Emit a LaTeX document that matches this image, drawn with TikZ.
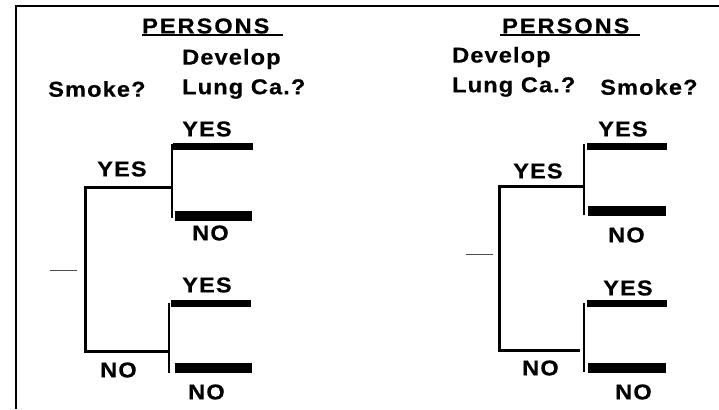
\documentclass[tikz,border=0pt]{standalone}
\usepackage{fontspec}
\setmainfont{Liberation Sans}
\newfontfamily\labfont{Liberation Sans}[UprightFont={* Bold}, FakeStretch=1.1, FakeBold=0.4, LetterSpace=5]
\newfontfamily\labfontw{Liberation Sans}[UprightFont={* Bold}, FakeStretch=1.1, FakeBold=0.4, LetterSpace=9]
\tikzset{
  lab/.style={inner sep=0pt, font=\labfont\fontsize{21.5}{24}\selectfont},
  labw/.style={inner sep=0pt, font=\labfontw\fontsize{21.5}{24}\selectfont},
  frameline/.style={line width=2.5pt},
  branch/.style={line width=3pt},
  bar/.style={line width=7pt},
  barno/.style={line width=10pt},
  tick/.style={line width=1pt, black!70},
}
\begin{document}
\begin{tikzpicture}[x=1pt,y=-1pt]
\useasboundingbox (0,0) rectangle (719,409);
% frame
\coordinate (fTL) at (16,6);
\coordinate (fTR) at (719,6);
\coordinate (fBL) at (16,409);
\draw[frameline] (fTR) -- (fTL) -- (fBL);

% ---------- left tree ----------
\node[labw, anchor=west] (lpers) at (142,26) {PERSONS};
\coordinate (lulA) at (142,35);
\coordinate (lulB) at (283,35);
\draw[line width=1.2pt] (lulA) -- (lulB);
\node[lab, anchor=west] (ldev) at (182,59) {Develop};
\node[lab, anchor=west] (lsmk) at (48,89) {Smoke?};
\node[lab, anchor=west] (llung) at (182,89) {Lung Ca.?};
\node[lab, anchor=west] (lyes1) at (182,129) {YES};
\node[lab, anchor=west] (lyes0) at (97,169) {YES};
\node[lab, anchor=west] (lno1) at (192,233) {NO};
\node[lab, anchor=west] (lyes2) at (182,285) {YES};
\node[lab, anchor=west] (lno0) at (100,370) {NO};
\node[lab, anchor=west] (lno2) at (188,392) {NO};

\coordinate (lt1) at (50,270);
\coordinate (lt2) at (77,270);
\draw[tick] (lt1) -- (lt2);

\coordinate (lya) at (172,187);
\coordinate (lyb) at (85,187);
\coordinate (lnb) at (85,351);
\coordinate (lna) at (168,351);
\draw[branch] (lya) -- (lyb) -- (lnb) -- (lna);
\coordinate (lv1a) at (172,144);
\coordinate (lv1b) at (172,218);
\draw[line width=2.5pt] (lv1a) -- (lv1b);
\coordinate (lv2a) at (169,303);
\coordinate (lv2b) at (169,373);
\draw[line width=2.5pt] (lv2a) -- (lv2b);

\coordinate (lb1a) at (173,146); \coordinate (lb1b) at (253,146);
\coordinate (lb2a) at (175,216); \coordinate (lb2b) at (252,216);
\coordinate (lb3a) at (171,303); \coordinate (lb3b) at (251,303);
\coordinate (lb4a) at (175,368); \coordinate (lb4b) at (252,368);
\draw[bar] (lb1a) -- (lb1b);
\draw[barno] (lb2a) -- (lb2b);
\draw[bar] (lb3a) -- (lb3b);
\draw[barno] (lb4a) -- (lb4b);

% ---------- right tree ----------
\node[labw, anchor=west] (rpers) at (502,26) {PERSONS};
\coordinate (rulA) at (500,35);
\coordinate (rulB) at (640,35);
\draw[line width=1.2pt] (rulA) -- (rulB);
\node[lab, anchor=west] (rdev) at (452,57) {Develop};
\node[lab, anchor=west] (rlung) at (452,87) {Lung Ca.?};
\node[lab, anchor=west] (rsmk) at (600,87) {Smoke?};
\node[lab, anchor=west] (ryes1) at (598,129) {YES};
\node[lab, anchor=west] (ryes0) at (513,171) {YES};
\node[lab, anchor=west] (rno1) at (608,235) {NO};
\node[lab, anchor=west] (ryes2) at (603,288) {YES};
\node[lab, anchor=west] (rno0) at (522,368) {NO};
\node[lab, anchor=west] (rno2) at (615,392) {NO};

\coordinate (rt1) at (466,254);
\coordinate (rt2) at (493,254);
\draw[tick] (rt1) -- (rt2);

\coordinate (rya) at (584,186);
\coordinate (ryb) at (499,186);
\coordinate (rnb) at (499,350);
\coordinate (rna) at (580,350);
\draw[branch] (rya) -- (ryb) -- (rnb) -- (rna);
\coordinate (rv1a) at (584,144);
\coordinate (rv1b) at (584,215);
\draw[line width=2.5pt] (rv1a) -- (rv1b);
\coordinate (rv2a) at (584,303);
\coordinate (rv2b) at (584,372);
\draw[line width=2.5pt] (rv2a) -- (rv2b);

\coordinate (rb1a) at (587,146); \coordinate (rb1b) at (667,146);
\coordinate (rb2a) at (588,211); \coordinate (rb2b) at (666,211);
\coordinate (rb3a) at (587,303); \coordinate (rb3b) at (667,303);
\coordinate (rb4a) at (588,368); \coordinate (rb4b) at (666,368);
\draw[bar] (rb1a) -- (rb1b);
\draw[barno] (rb2a) -- (rb2b);
\draw[bar] (rb3a) -- (rb3b);
\draw[barno] (rb4a) -- (rb4b);
\end{tikzpicture}
\end{document}
